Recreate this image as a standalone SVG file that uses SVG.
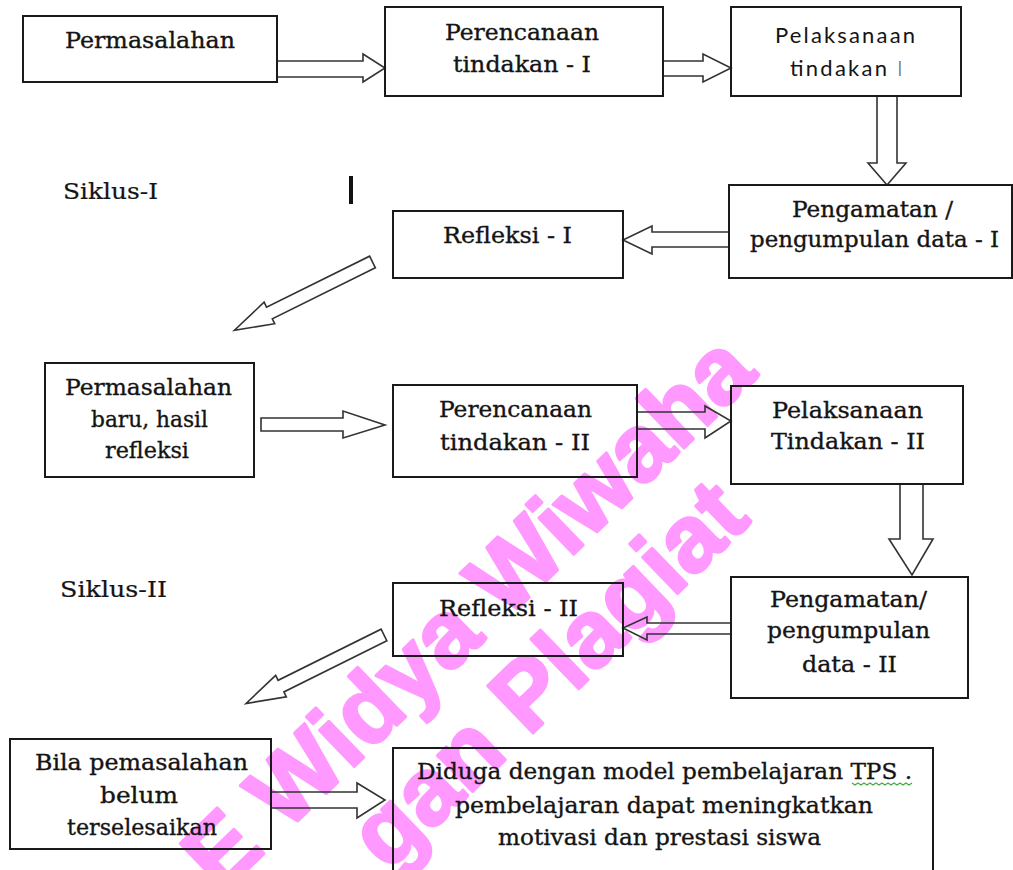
<svg xmlns="http://www.w3.org/2000/svg" width="1013" height="870" viewBox="0 0 1013 870">
<style>
.bg{fill:#ffffff}
.wm{fill:#ff99ff;stroke:#ff99ff;stroke-width:3;stroke-linejoin:round;font-family:"Liberation Sans",Arial,sans-serif;font-weight:bold;font-size:95px}
.box{fill:none;stroke:#1a1a1a;stroke-width:2}
.arr{fill:none;stroke:#333333;stroke-width:1.6;stroke-linejoin:miter}
.t{fill:#141414;stroke:#141414;stroke-width:0.35;font-family:"DejaVu Serif","Liberation Serif",serif;font-size:23px;text-anchor:middle}
.s{fill:#141414;font-family:Lato,"Open Sans",sans-serif;font-size:22px}
.lbl{fill:#141414;stroke:#141414;stroke-width:0.2;font-family:"DejaVu Serif","Liberation Serif",serif;font-size:23px}
</style>
<rect class="bg" x="0" y="0" width="1013" height="870"/>

<g id="watermark">
<text class="wm" x="221" y="895" transform="rotate(-44 221 895)">E Widya Wiwaha</text>
<text class="wm" x="388" y="873" transform="rotate(-44 388 873)">gan Plagiat</text>
</g>

<g id="connectors">
<polygon class="arr" points="277,61 363,61 363,54 385,68 363,82 363,77 277,77"/>
<polygon class="arr" points="663,61 703,61 703,54 731,68 703,82 703,76 663,76"/>
<polygon class="arr" points="877,96 877,163 868,163 887,185 906,163 897,163 897,96"/>
<polygon class="arr" points="729,232 652,232 652,226 623,240 652,254 652,247 729,247"/>
<polygon class="arr" points="0,-6.5 115,-6.5 115,-12 154,0 115,12 115,6.5 0,6.5" transform="translate(372.5 262) rotate(153.7)"/>
<polygon class="arr" points="261,418 343,418 343,411 385,425 343,438 343,431 261,431"/>
<polygon class="arr" points="637,412 705,412 705,406 731,421 705,438 705,429 637,429"/>
<polygon class="arr" points="900,484 900,539 889,539 912,575 933,539 923,539 923,484"/>
<polygon class="arr" points="731,623 647,623 647,617 623,628 647,640 647,634 731,634"/>
<polygon class="arr" points="0,-6.5 115,-6.5 115,-12 154,0 115,12 115,6.5 0,6.5" transform="translate(384 635) rotate(153.6)"/>
<polygon class="arr" points="271,792 357,792 357,783 385,800 357,818 357,808 271,808"/>
</g>

<g id="n1">
<rect class="box" x="23" y="16" width="254" height="66"/>
<text class="t" x="150" y="48" textLength="170" lengthAdjust="spacingAndGlyphs">Permasalahan</text>
</g>
<g id="n2">
<rect class="box" x="385" y="7" width="278" height="89"/>
<text class="t" x="522" y="40" textLength="154" lengthAdjust="spacingAndGlyphs">Perencanaan</text>
<text class="t" x="522" y="72" textLength="138" lengthAdjust="spacingAndGlyphs">tindakan - I</text>
</g>
<g id="n3">
<rect class="box" x="731" y="7" width="230" height="89"/>
<text class="s" x="775" y="43" textLength="140" lengthAdjust="spacing">Pelaksanaan</text>
<text class="s" x="790" y="76"><tspan textLength="97" lengthAdjust="spacing">tindakan</tspan> <tspan x="897" fill="#555555" font-weight="300">I</tspan></text>
</g>
<g id="n4">
<rect class="box" x="729" y="185" width="283" height="93"/>
<text class="t" x="872.5" y="217" textLength="161" lengthAdjust="spacingAndGlyphs">Pengamatan /</text>
<text class="t" x="874.5" y="247" textLength="249" lengthAdjust="spacingAndGlyphs">pengumpulan data - I</text>
</g>
<g id="n5">
<rect class="box" x="393" y="211" width="230" height="67"/>
<text class="t" x="507.5" y="243" textLength="129" lengthAdjust="spacingAndGlyphs">Refleksi - I</text>
</g>
<g id="siklus1">
<text class="lbl" x="63" y="199" textLength="95" lengthAdjust="spacingAndGlyphs">Siklus-I</text>
<rect x="349" y="176" width="4" height="28" fill="#111111"/>
</g>
<g id="n6">
<rect class="box" x="45" y="363" width="209" height="114"/>
<text class="t" x="148.5" y="395" textLength="167" lengthAdjust="spacingAndGlyphs">Permasalahan</text>
<text class="t" x="149.5" y="427" textLength="117" lengthAdjust="spacingAndGlyphs">baru, hasil</text>
<text class="t" x="147" y="458" textLength="84" lengthAdjust="spacingAndGlyphs">refleksi</text>
</g>
<g id="n7">
<rect class="box" x="393" y="385" width="244" height="92"/>
<text class="t" x="515.5" y="417" textLength="153" lengthAdjust="spacingAndGlyphs">Perencanaan</text>
<text class="t" x="515" y="450" textLength="150" lengthAdjust="spacingAndGlyphs">tindakan - II</text>
</g>
<g id="n8">
<rect class="box" x="731" y="386" width="232" height="98"/>
<text class="t" x="847.5" y="418" textLength="151" lengthAdjust="spacingAndGlyphs">Pelaksanaan</text>
<text class="t" x="848" y="449" textLength="154" lengthAdjust="spacingAndGlyphs">Tindakan - II</text>
</g>
<g id="siklus2">
<text class="lbl" x="60" y="597" textLength="107" lengthAdjust="spacingAndGlyphs">Siklus-II</text>
</g>
<g id="n9">
<rect class="box" x="731" y="577" width="237" height="121"/>
<text class="t" x="848.5" y="607" textLength="157" lengthAdjust="spacingAndGlyphs">Pengamatan/</text>
<text class="t" x="848.5" y="638" textLength="163" lengthAdjust="spacingAndGlyphs">pengumpulan</text>
<text class="t" x="849.5" y="672" textLength="95" lengthAdjust="spacingAndGlyphs">data - II</text>
</g>
<g id="n10">
<rect class="box" x="393" y="583" width="230" height="73"/>
<text class="t" x="508.5" y="616" textLength="139" lengthAdjust="spacingAndGlyphs">Refleksi - II</text>
</g>
<g id="n11">
<rect class="box" x="10" y="739" width="261" height="110"/>
<text class="t" x="141.5" y="770" textLength="213" lengthAdjust="spacingAndGlyphs">Bila pemasalahan</text>
<text class="t" x="139" y="803" textLength="78" lengthAdjust="spacingAndGlyphs">belum</text>
<text class="t" x="142" y="835" textLength="150" lengthAdjust="spacingAndGlyphs">terselesaikan</text>
</g>
<g id="n12">
<rect class="box" x="393" y="748" width="540" height="130"/>
<text class="t" x="664.5" y="779" textLength="495" lengthAdjust="spacingAndGlyphs">Diduga dengan model pembelajaran TPS .</text>
<text class="t" x="664" y="813" textLength="418" lengthAdjust="spacingAndGlyphs">pembelajaran dapat meningkatkan</text>
<text class="t" x="659.5" y="845" textLength="323" lengthAdjust="spacingAndGlyphs">motivasi dan prestasi siswa</text>
<polyline points="852,783 855,785 858,783 861,785 864,783 867,785 870,783 873,785 876,783 879,785 882,783 885,785 888,783 891,785 894,783 897,785 900,783 903,785 906,783 909,785 912,783" fill="none" stroke="#44aa44" stroke-width="1.2"/>
</g>
</svg>
